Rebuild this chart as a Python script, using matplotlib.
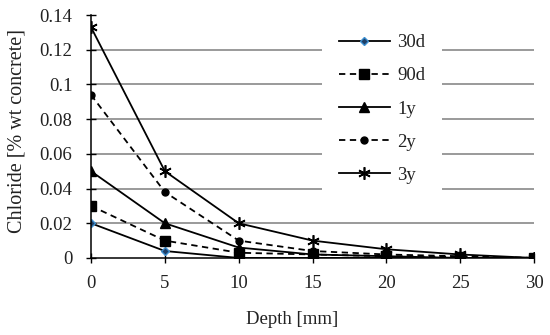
import matplotlib
matplotlib.use("Agg")
import matplotlib.pyplot as plt

depth = [0, 5, 10, 15, 20, 25, 30]
d30 = [0.020, 0.004, 0.000, 0.000, 0.000, 0.000, 0.000]
d90 = [0.030, 0.010, 0.003, 0.002, 0.001, 0.0005, 0.000]
y1 = [0.050, 0.020, 0.006, 0.002, 0.001, 0.000, 0.000]
y2 = [0.094, 0.038, 0.010, 0.004, 0.002, 0.001, 0.000]
y3 = [0.133, 0.050, 0.020, 0.010, 0.005, 0.002, 0.000]
labels = ["30d", "90d", "1y", "2y", "3y"]
yticks = [0, 0.02, 0.04, 0.06, 0.08, 0.1, 0.12, 0.14]
ytick_labels = ["0", "0.02", "0.04", "0.06", "0.08", "0.1", "0.12", "0.14"]
xticks = [0, 5, 10, 15, 20, 25, 30]

plt.rcParams['font.family'] = ['Liberation Serif', 'DejaVu Serif']

fig = plt.figure(figsize=(5.5, 3.35), dpi=100)
ax = fig.add_axes([0.1655, 0.23, 0.8055, 0.725])

for yv in yticks[1:-1]:
    ax.axhline(yv, color='#7f7f7f', lw=1.1, zorder=0)

lw = 1.3
ax.plot(depth, d30, '-', color='black', lw=lw, marker='D', ms=4,
        mfc='#1f3f66', mec='#3d8fd0', label=labels[0], zorder=3)
ax.plot(depth, d90, '--', color='black', lw=lw, marker='s', ms=7,
        mfc='black', mec='black', dashes=(3.5, 2.5), label=labels[1], zorder=3)
ax.plot(depth, y1, '-', color='black', lw=lw, marker='^', ms=6.5,
        mfc='black', mec='black', label=labels[2], zorder=3)
ax.plot(depth, y2, '--', color='black', lw=lw, marker='o', ms=5,
        mfc='black', mec='black', dashes=(3.5, 2.5), label=labels[3], zorder=3)
ax.plot(depth, y3, '-', color='black', lw=lw, marker=(6, 2, 0), ms=9,
        mfc='black', mec='black', mew=1.2, label=labels[4], zorder=3)

ax.set_xlim(0, 30)
ax.set_ylim(0, 0.14)
ax.set_xticks(xticks)
ax.set_yticks(yticks)
ax.set_yticklabels(ytick_labels)
ax.set_xticklabels([str(x) for x in xticks])
ax.tick_params(axis='both', direction='inout', length=7, width=1, labelsize=13.5,
               color='black', colors='#222222')
ax.tick_params(axis='x', pad=9)
ax.tick_params(axis='y', pad=10)
for s in ['top', 'right']:
    ax.spines[s].set_visible(False)
for s in ['left', 'bottom']:
    ax.spines[s].set_linewidth(1.1)
    ax.spines[s].set_color('black')
ax.spines['left'].set_zorder(4)
ax.spines['bottom'].set_zorder(4)
for sp in ax.spines.values():
    sp.set_clip_on(False)

ax.set_xlabel("Depth [mm]", fontsize=13.5, color='#222222')
ax.set_ylabel("Chloride [% wt concrete]", fontsize=14.5, color='#222222')
ax.xaxis.set_label_coords((292 - 91) / 443, -(320 - 258) / 243, transform=ax.transAxes)
ax.xaxis.label.set_va('center')
ax.yaxis.set_label_coords(-(91 - 17) / 443, (258 - 131) / 243, transform=ax.transAxes)
ax.yaxis.label.set_va('center')

leg = ax.legend(loc='center', bbox_to_anchor=(382 / 550, 1 - 109 / 335),
                bbox_transform=fig.transFigure, fontsize=13.5, frameon=True,
                fancybox=False, edgecolor='none', facecolor='white', framealpha=1,
                handlelength=2.7, handletextpad=0.4, labelspacing=0.85,
                borderpad=0.9)
for t in leg.get_texts():
    t.set_color('#222222')

fig.savefig("out.png", dpi=100)
